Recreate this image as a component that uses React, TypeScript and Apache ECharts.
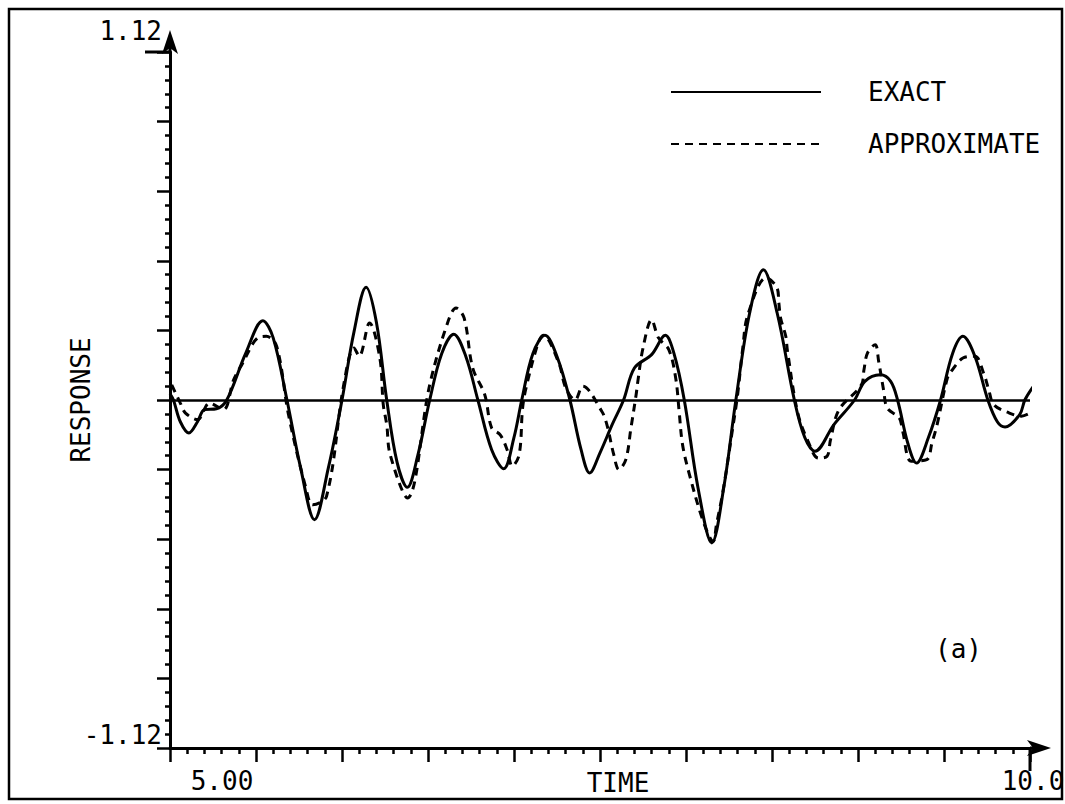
import React, { useEffect, useRef } from "react";
import * as echarts from "echarts";

// ---- data ----
const exactTime = [
  5.0, 5.02, 5.06, 5.11, 5.16, 5.2, 5.27, 5.33, 5.44, 5.54, 5.6, 5.68, 5.76, 5.84, 5.92, 6.0,
  6.07, 6.14, 6.2, 6.26, 6.32, 6.38, 6.44, 6.51, 6.58, 6.65, 6.72, 6.79, 6.87, 6.94, 7.0, 7.045,
  7.11, 7.18, 7.25, 7.325, 7.39, 7.44, 7.5, 7.57, 7.637, 7.7, 7.8, 7.88, 7.93, 7.99, 8.07, 8.15,
  8.22, 8.29, 8.37, 8.45, 8.53, 8.63, 8.69, 8.75, 8.86, 8.98, 9.04, 9.13, 9.19, 9.23, 9.29, 9.34,
  9.41, 9.48, 9.55, 9.61, 9.68, 9.755, 9.81, 9.855, 9.94, 9.97, 10.02,
];
const exactResponse = [
  0.02, 0.0, -0.07, -0.106, -0.07, -0.031, -0.028, 0.0, 0.15, 0.255, 0.2, 0.0, -0.22, -0.385, -0.22, 0.0,
  0.22, 0.363, 0.25, 0.0, -0.2, -0.281, -0.18, 0.0, 0.15, 0.212, 0.14, 0.0, -0.16, -0.221, -0.12, 0.0,
  0.15, 0.208, 0.14, 0.0, -0.16, -0.235, -0.17, -0.08, 0.0, 0.103, 0.146, 0.208, 0.15, 0.0, -0.283, -0.46,
  -0.28, 0.0, 0.28, 0.419, 0.28, 0.0, -0.12, -0.165, -0.079, 0.0, 0.06, 0.081, 0.06, 0.0, -0.14, -0.203,
  -0.12, 0.0, 0.15, 0.205, 0.14, 0.0, -0.07, -0.087, -0.047, 0.0, 0.044,
];
const approxTime = [
  5.01, 5.06, 5.09, 5.16, 5.23, 5.31, 5.37, 5.42, 5.51, 5.56, 5.62, 5.69, 5.79, 5.83, 5.91, 6.01,
  6.07, 6.1, 6.16, 6.22, 6.24, 6.26, 6.28, 6.38, 6.51, 6.61, 6.663, 6.71, 6.76, 6.83, 6.87, 6.92,
  6.96, 6.99, 7.03, 7.05, 7.07, 7.14, 7.17, 7.26, 7.3, 7.355, 7.4, 7.51, 7.54, 7.58, 7.61, 7.65,
  7.68, 7.71, 7.72, 7.75, 7.8, 7.84, 7.9, 7.94, 7.96, 7.98, 8.02, 8.1, 8.158, 8.177, 8.215, 8.27,
  8.3, 8.33, 8.36, 8.467, 8.53, 8.54, 8.55, 8.58, 8.59, 8.65, 8.71, 8.77, 8.82, 8.84, 8.89, 9.02,
  9.035, 9.055, 9.1, 9.12, 9.15, 9.17, 9.24, 9.26, 9.31, 9.4, 9.43, 9.46, 9.52, 9.55, 9.61, 9.68,
  9.73, 9.76, 9.79, 9.88, 9.95, 10.0,
];
const approxResponse = [
  0.049, -0.01, -0.042, -0.063, -0.01, -0.031, 0.065, 0.116, 0.2, 0.205, 0.173, -0.05, -0.283, -0.337, -0.31, 0.049,
  0.167, 0.141, 0.248, 0.135, -0.015, -0.079, -0.176, -0.315, 0.049, 0.242, 0.296, 0.264, 0.103, 0.017, -0.09, -0.112,
  -0.16, -0.213, -0.176, -0.026, 0.039, 0.183, 0.208, 0.12, 0.04, 0.0, 0.044, -0.036, -0.079, -0.176, -0.224, -0.192,
  -0.09, 0.017, 0.06, 0.167, 0.258, 0.2, 0.162, 0.071, -0.036, -0.144, -0.24, -0.39, -0.455, -0.401, -0.294, -0.096,
  0.017, 0.167, 0.275, 0.393, 0.36, 0.312, 0.264, 0.205, 0.157, -0.042, -0.133, -0.187, -0.181, -0.128, -0.031, 0.049,
  0.098, 0.151, 0.178, 0.125, 0.028, -0.026, -0.058, -0.101, -0.197, -0.192, -0.138, -0.079, 0.071, 0.098, 0.135, 0.141,
  0.087, 0.033, -0.015, -0.042, -0.052, -0.042,
];
const seriesNames = ["EXACT", "APPROXIMATE"];
const xTickLabels = ["5.00", "10.0"];
const yTickLabels = ["-1.12", "1.12"];
const xRange = [5, 10];
const yRange = [-1.12, 1.12];
const axisTitles = { x: "TIME", y: "RESPONSE" };
const panelLabel = "(a)";

const FONT = "DejaVu Sans Mono";
const near = (a: number, b: number) => Math.abs(a - b) < 1e-6;

export default function App() {
  const ref = useRef<HTMLDivElement>(null);
  useEffect(() => {
    if (!ref.current) return;
    const chart = echarts.init(ref.current, undefined, { renderer: "svg" });
    const black = "#000";
    const textBase = { fontFamily: FONT, fontSize: 26, color: black };
    chart.setOption({
      animation: false,
      backgroundColor: "#fff",
      grid: { left: 170, right: 35, top: 52, bottom: 56, containLabel: false, outerBoundsMode: "none" },
      legend: {
        orient: "vertical",
        left: 665,
        top: 74,
        itemWidth: 150,
        itemHeight: 24,
        itemGap: 26,
        data: seriesNames,
        itemStyle: { opacity: 0, borderWidth: 0 },
        textStyle: { ...textBase, lineHeight: 24, padding: [0, 0, 0, 42] },
      },
      xAxis: {
        type: "value",
        min: xRange[0],
        max: xRange[1],
        interval: 0.5,
        name: axisTitles.x,
        nameLocation: "middle",
        nameGap: 22,
        nameMoveOverlap: false,
        nameTextStyle: { ...textBase, padding: [0, 0, 0, 36] },
        axisLine: {
          onZero: false,
          lineStyle: { color: black, width: 3 },
          symbol: ["none", "arrow"],
          symbolSize: [12, 24],
          symbolOffset: [0, 21],
        },
        axisTick: { show: true, length: 14, lineStyle: { color: black, width: 2.5 } },
        minorTick: { show: true, splitNumber: 5, length: 6, lineStyle: { color: black, width: 2.5 } },
        splitLine: { show: false },
        axisLabel: {
          ...textBase,
          margin: 20,
          showMinLabel: true,
          showMaxLabel: true,
          formatter: (v: number) =>
            near(v, xRange[0]) ? `{s|${xTickLabels[0]}}` : near(v, xRange[1]) ? `{e|${xTickLabels[1]}}` : "",
          rich: {
            s: { ...textBase, padding: [0, 0, 0, 104] },
            e: { ...textBase, padding: [0, 0, 0, 6] },
          },
        },
      },
      yAxis: {
        type: "value",
        min: yRange[0],
        max: yRange[1],
        interval: 0.224,
        name: axisTitles.y,
        nameLocation: "middle",
        nameRotate: 90,
        nameGap: 76,
        nameMoveOverlap: false,
        nameTextStyle: { ...textBase },
        axisLine: {
          lineStyle: { color: black, width: 3 },
          symbol: ["none", "arrow"],
          symbolSize: [12, 24],
          symbolOffset: [0, 22],
        },
        axisTick: { show: true, length: 13, lineStyle: { color: black, width: 2.5 } },
        minorTick: { show: true, splitNumber: 5, length: 5, lineStyle: { color: black, width: 2.5 } },
        splitLine: { show: false },
        axisLabel: {
          ...textBase,
          margin: 8,
          verticalAlign: "bottom",
          showMinLabel: true,
          showMaxLabel: true,
          formatter: (v: number) =>
            near(v, yRange[1]) ? `{t|${yTickLabels[1]}}` : near(v, yRange[0]) ? `{b|${yTickLabels[0]}}` : "",
          rich: {
            t: { ...textBase, padding: [0, 0, 8, 0] },
            b: { ...textBase, padding: [0, 0, 0, 0] },
          },
        },
      },
      series: [
        {
          name: seriesNames[0],
          type: "line",
          data: exactTime.map((t, i) => [t, exactResponse[i]]),
          smooth: 0.35,
          symbol: "none",
          clip: false,
          lineStyle: { color: black, width: 3 },
          itemStyle: { color: black },
          markLine: {
            silent: true,
            symbol: "none",
            label: { show: false },
            lineStyle: { color: black, width: 2.5, type: "solid" },
            data: [{ yAxis: 0 }],
          },
        },
        {
          name: seriesNames[1],
          type: "line",
          data: approxTime.map((t, i) => [t, approxResponse[i]]),
          smooth: 0.35,
          symbol: "none",
          clip: false,
          lineStyle: { color: black, width: 3, type: [8, 6] },
          itemStyle: { color: black },
        },
      ],
    });

    const pTopLeft = chart.convertToPixel({ gridIndex: 0 }, [xRange[0], yRange[1]]) as number[];
    const pBotRight = chart.convertToPixel({ gridIndex: 0 }, [xRange[1], yRange[0]]) as number[];
    const ls = { stroke: black, lineWidth: 3 };
    chart.setOption({
      graphic: [
        { type: "rect", shape: { x: 9, y: 9, width: 1053, height: 790 }, style: { fill: "none", stroke: black, lineWidth: 2.5 }, silent: true },
        { type: "line", shape: { x1: pTopLeft[0], y1: pTopLeft[1], x2: pTopLeft[0], y2: pTopLeft[1] - 12 }, style: ls, silent: true },
        { type: "line", shape: { x1: pBotRight[0], y1: pBotRight[1], x2: pBotRight[0] + 12, y2: pBotRight[1] }, style: ls, silent: true },
        { type: "line", shape: { x1: pTopLeft[0] - 25, y1: pTopLeft[1], x2: pTopLeft[0], y2: pTopLeft[1] }, style: ls, silent: true },
        { type: "line", shape: { x1: pBotRight[0], y1: pBotRight[1], x2: pBotRight[0], y2: pBotRight[1] + 23 }, style: ls, silent: true },
        {
          type: "text",
          left: 935,
          top: 636,
          style: { text: panelLabel, font: `26px '${FONT}'`, fill: black },
          silent: true,
        },
      ],
    });

    return () => chart.dispose();
  }, []);
  return <div ref={ref} style={{ position: "fixed", left: 0, top: 0, width: 1065, height: 804 }} />;
}
